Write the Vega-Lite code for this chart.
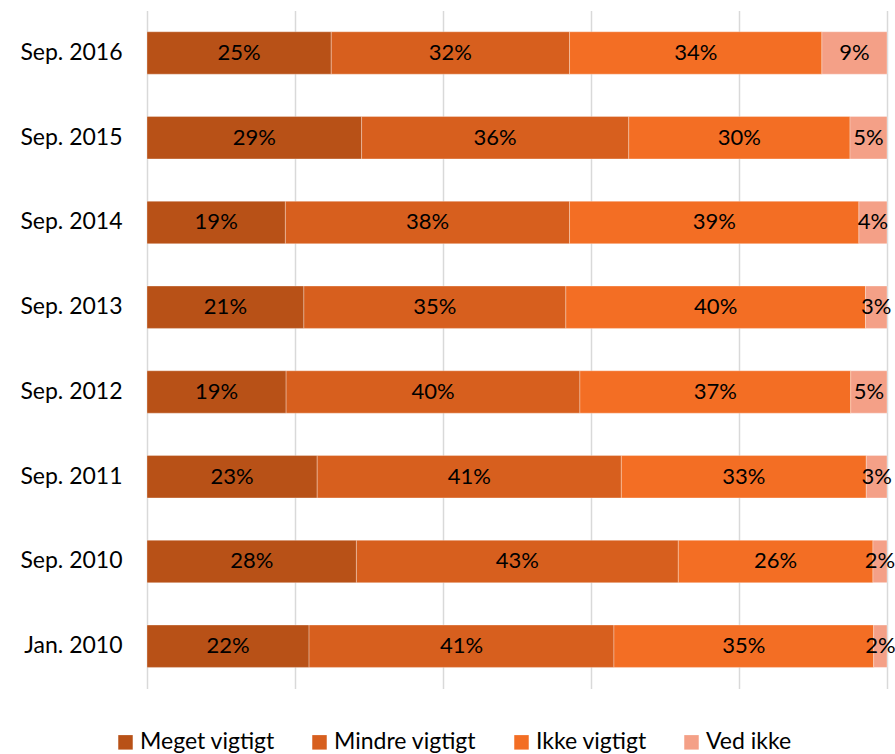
{
  "$schema": "https://vega.github.io/schema/vega-lite/v6.json",
  "width": 740,
  "height": 678,
  "autosize": {"type": "none"},
  "padding": {"left": 147, "top": 10.6, "right": 8, "bottom": 65.4},
  "background": "white",
  "config": {"view": {"stroke": null}, "font": "Lato"},
  "data": {"values": [
    {"period": "Sep. 2016", "cat": "Meget vigtigt", "n": 1, "v": 24.9, "label": "25%"},
    {"period": "Sep. 2016", "cat": "Mindre vigtigt", "n": 2, "v": 32.2, "label": "32%"},
    {"period": "Sep. 2016", "cat": "Ikke vigtigt", "n": 3, "v": 34.1, "label": "34%"},
    {"period": "Sep. 2016", "cat": "Ved ikke", "n": 4, "v": 8.8, "label": "9%"},
    {"period": "Sep. 2015", "cat": "Meget vigtigt", "n": 1, "v": 29.0, "label": "29%"},
    {"period": "Sep. 2015", "cat": "Mindre vigtigt", "n": 2, "v": 36.1, "label": "36%"},
    {"period": "Sep. 2015", "cat": "Ikke vigtigt", "n": 3, "v": 29.9, "label": "30%"},
    {"period": "Sep. 2015", "cat": "Ved ikke", "n": 4, "v": 5.0, "label": "5%"},
    {"period": "Sep. 2014", "cat": "Meget vigtigt", "n": 1, "v": 18.7, "label": "19%"},
    {"period": "Sep. 2014", "cat": "Mindre vigtigt", "n": 2, "v": 38.4, "label": "38%"},
    {"period": "Sep. 2014", "cat": "Ikke vigtigt", "n": 3, "v": 39.1, "label": "39%"},
    {"period": "Sep. 2014", "cat": "Ved ikke", "n": 4, "v": 3.8, "label": "4%"},
    {"period": "Sep. 2013", "cat": "Meget vigtigt", "n": 1, "v": 21.2, "label": "21%"},
    {"period": "Sep. 2013", "cat": "Mindre vigtigt", "n": 2, "v": 35.4, "label": "35%"},
    {"period": "Sep. 2013", "cat": "Ikke vigtigt", "n": 3, "v": 40.5, "label": "40%"},
    {"period": "Sep. 2013", "cat": "Ved ikke", "n": 4, "v": 2.9, "label": "3%"},
    {"period": "Sep. 2012", "cat": "Meget vigtigt", "n": 1, "v": 18.8, "label": "19%"},
    {"period": "Sep. 2012", "cat": "Mindre vigtigt", "n": 2, "v": 39.7, "label": "40%"},
    {"period": "Sep. 2012", "cat": "Ikke vigtigt", "n": 3, "v": 36.6, "label": "37%"},
    {"period": "Sep. 2012", "cat": "Ved ikke", "n": 4, "v": 4.9, "label": "5%"},
    {"period": "Sep. 2011", "cat": "Meget vigtigt", "n": 1, "v": 23.0, "label": "23%"},
    {"period": "Sep. 2011", "cat": "Mindre vigtigt", "n": 2, "v": 41.1, "label": "41%"},
    {"period": "Sep. 2011", "cat": "Ikke vigtigt", "n": 3, "v": 33.1, "label": "33%"},
    {"period": "Sep. 2011", "cat": "Ved ikke", "n": 4, "v": 2.8, "label": "3%"},
    {"period": "Sep. 2010", "cat": "Meget vigtigt", "n": 1, "v": 28.3, "label": "28%"},
    {"period": "Sep. 2010", "cat": "Mindre vigtigt", "n": 2, "v": 43.5, "label": "43%"},
    {"period": "Sep. 2010", "cat": "Ikke vigtigt", "n": 3, "v": 26.3, "label": "26%"},
    {"period": "Sep. 2010", "cat": "Ved ikke", "n": 4, "v": 1.9, "label": "2%"},
    {"period": "Jan. 2010", "cat": "Meget vigtigt", "n": 1, "v": 21.9, "label": "22%"},
    {"period": "Jan. 2010", "cat": "Mindre vigtigt", "n": 2, "v": 41.2, "label": "41%"},
    {"period": "Jan. 2010", "cat": "Ikke vigtigt", "n": 3, "v": 35.1, "label": "35%"},
    {"period": "Jan. 2010", "cat": "Ved ikke", "n": 4, "v": 1.8, "label": "2%"}
  ]},
  "transform": [
    {"stack": "v", "groupby": ["period"], "sort": [{"field": "n", "order": "ascending"}], "offset": "normalize", "as": ["v0", "v1"]},
    {"calculate": "(datum.v0 + datum.v1) / 2", "as": "vm"}
  ],
  "encoding": {
    "y": {
      "field": "period", "type": "nominal",
      "sort": ["Sep. 2016", "Sep. 2015", "Sep. 2014", "Sep. 2013", "Sep. 2012", "Sep. 2011", "Sep. 2010", "Jan. 2010"],
      "scale": {"paddingInner": 0.5, "paddingOuter": 0.25},
      "axis": {"title": null, "domain": false, "ticks": false, "labelPadding": 25, "labelFontSize": 23, "labelColor": "#000000", "labelFont": "Lato", "labelFontWeight": 400}
    }
  },
  "layer": [
    {
      "mark": {"type": "bar", "stroke": "#ffffff", "strokeWidth": 0.6, "strokeOpacity": 0.5},
      "encoding": {
        "x": {"field": "v0", "type": "quantitative", "scale": {"domain": [0, 1], "nice": false, "zero": true},
              "axis": {"title": null, "values": [0, 0.2, 0.4, 0.6, 0.8, 1], "labels": false, "ticks": false, "domain": false, "grid": true, "gridColor": "#d9d9d9", "gridWidth": 1.5}},
        "x2": {"field": "v1"},
        "color": {
          "field": "cat", "type": "nominal",
          "scale": {"domain": ["Meget vigtigt", "Mindre vigtigt", "Ikke vigtigt", "Ved ikke"], "range": ["#B85117", "#D75F1E", "#F36E24", "#F4A087"]},
          "legend": {"title": null, "orient": "none", "legendX": -33, "legendY": 720, "direction": "horizontal", "symbolType": "square", "symbolSize": 210, "symbolStrokeWidth": 0, "labelFontSize": 23, "labelColor": "#000000", "labelFont": "Lato", "labelOffset": 3, "columnPadding": 33, "symbolOpacity": 1}
        }
      }
    },
    {
      "mark": {"type": "text", "fontSize": 22, "color": "#000000", "font": "Lato", "baseline": "middle", "align": "center"},
      "encoding": {
        "x": {"field": "vm", "type": "quantitative"},
        "text": {"field": "label", "type": "nominal"}
      }
    }
  ]
}
